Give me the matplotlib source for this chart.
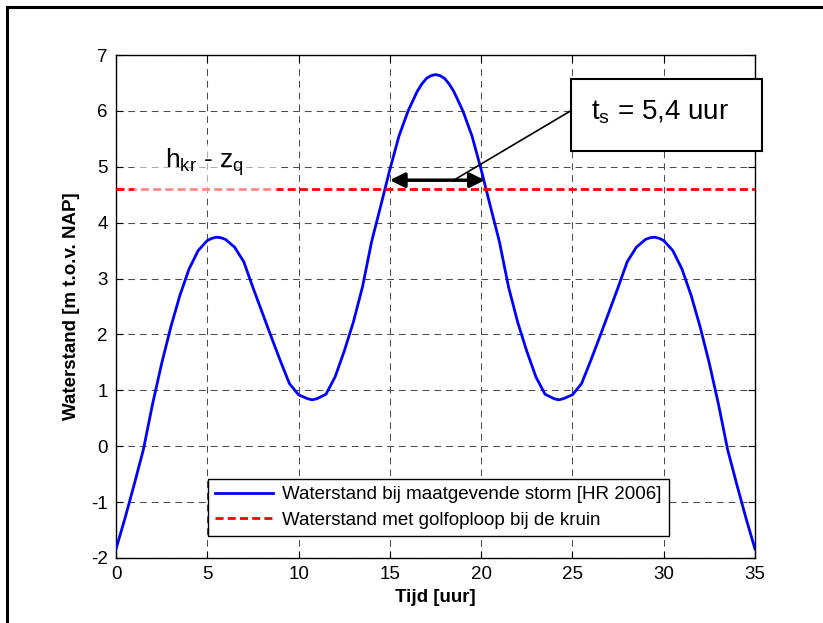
import matplotlib
matplotlib.use("Agg")
import matplotlib.pyplot as plt
from matplotlib.patches import Rectangle

plt.rcParams['font.family'] = ['Liberation Sans', 'DejaVu Sans']
plt.rcParams['mathtext.fontset'] = 'custom'
plt.rcParams['mathtext.rm'] = 'Liberation Sans'
plt.rcParams['mathtext.it'] = 'Liberation Sans'
plt.rcParams['axes.unicode_minus'] = False

# tijd [uur] en waterstand [m t.o.v. NAP]
tijd = [0, 0.5, 1, 1.5, 2, 2.5, 3, 3.5, 4, 4.5, 5, 5.25, 5.5, 5.75, 6, 6.5, 7,
        7.5, 8, 8.5, 9, 9.5, 10, 10.5, 10.75, 11, 11.5, 12, 12.5, 13, 13.5,
        14, 14.5, 15, 15.5, 16, 16.5, 16.75, 17, 17.25, 17.5, 17.75, 18,
        18.25, 18.5, 19, 19.5, 20, 20.5, 21, 21.5, 22, 22.5, 23, 23.5, 24,
        24.25, 24.5, 25, 25.5, 26, 26.5, 27, 27.5, 28, 28.5, 29, 29.25, 29.5,
        29.75, 30, 30.5, 31, 31.5, 32, 32.5, 33, 33.5, 34, 34.5, 35]
waterstand = [-1.84, -1.28, -0.68, -0.06, 0.75, 1.48, 2.13, 2.70, 3.17, 3.50,
              3.68, 3.72, 3.74, 3.73, 3.70, 3.56, 3.30, 2.84, 2.40, 1.96, 1.53,
              1.12, 0.92, 0.85, 0.83, 0.85, 0.93, 1.24, 1.70, 2.22, 2.85, 3.66,
              4.30, 4.95, 5.55, 6.00, 6.35, 6.48, 6.58, 6.63, 6.65, 6.63, 6.58,
              6.48, 6.35, 6.00, 5.55, 4.95, 4.30, 3.66, 2.85, 2.22, 1.70, 1.24,
              0.93, 0.85, 0.83, 0.85, 0.92, 1.12, 1.53, 1.96, 2.40, 2.84, 3.30,
              3.56, 3.70, 3.73, 3.74, 3.72, 3.68, 3.50, 3.17, 2.70, 2.13, 1.48,
              0.75, -0.06, -0.68, -1.28, -1.84]
kruin_niveau = 4.6
ts_start = 15.0
ts_eind = 20.2

W, H = 823, 623
fig = plt.figure(figsize=(W/100, H/100), dpi=100)
ax = fig.add_axes([116/W, 1-558/H, (755-116)/W, (558-55)/H])

ax.plot(tijd, waterstand, color='blue', lw=2.0, label='Waterstand bij maatgevende storm [HR 2006]', zorder=3)
ax.plot([0, 35], [kruin_niveau, kruin_niveau], color='red', lw=2.0, ls=(0, (2.9, 1.5)),
        label='Waterstand met golfoploop bij de kruin', zorder=3)

ax.set_xlim(0, 35)
ax.set_ylim(-2, 7)
ax.set_xticks(range(0, 36, 5))
ax.set_yticks(range(-2, 8))
ax.grid(True, color='0.3', ls=(0, (6.5, 4.8)), lw=0.75)
ax.tick_params(direction='in', top=True, right=True, labelsize=13.5, length=5, pad=6)
for s in ax.spines.values():
    s.set_linewidth(1.0)

ax.set_xlabel('Tijd [uur]', fontsize=13.5, fontweight='bold', labelpad=4)
ax.set_ylabel('Waterstand [m t.o.v. NAP]', fontsize=13.5, fontweight='bold', labelpad=8)

# lichte achtergrond achter het label
ax.add_patch(Rectangle((1.0, 4.45), 7.8, 0.95, facecolor='white', alpha=0.55, edgecolor='none', zorder=4))
ax.text(2.7, 4.98, r'h$_\mathregular{kr}$ - z$_\mathregular{q}$', fontsize=19, zorder=5)

ax.annotate('', xy=(ts_start, 4.76), xytext=(ts_eind, 4.76),
            arrowprops=dict(arrowstyle='<|-|>', color='black', lw=2.5, mutation_scale=22, shrinkA=0, shrinkB=0),
            zorder=5)
ax.plot([18.5, 24.9], [4.76, 6.0], color='black', lw=1.2, zorder=5)
ax.add_patch(Rectangle((24.9, 5.29), 10.5, 1.28, facecolor='white', edgecolor='black', lw=1.5,
                       zorder=6, clip_on=False))
ax.text(26.0, 5.97, r't$_\mathregular{s}$ = 5,4 uur', fontsize=20, ha='left', va='center', zorder=7)

leg = ax.legend(loc='lower left', bbox_to_anchor=(4.5, -1.78), bbox_transform=ax.transData,
                fontsize=13.5, fancybox=False, framealpha=1, edgecolor='black',
                handlelength=3.1, handletextpad=0.5, borderpad=0.39, labelspacing=0.47)
leg.get_frame().set_linewidth(1.0)
leg.set_zorder(8)

fig.add_artist(Rectangle((7/W, -0.05), 1.1, 1 - 7/H + 0.05, transform=fig.transFigure,
                         fill=False, edgecolor='black', lw=2.2))

fig.savefig('out.png', dpi=100)
